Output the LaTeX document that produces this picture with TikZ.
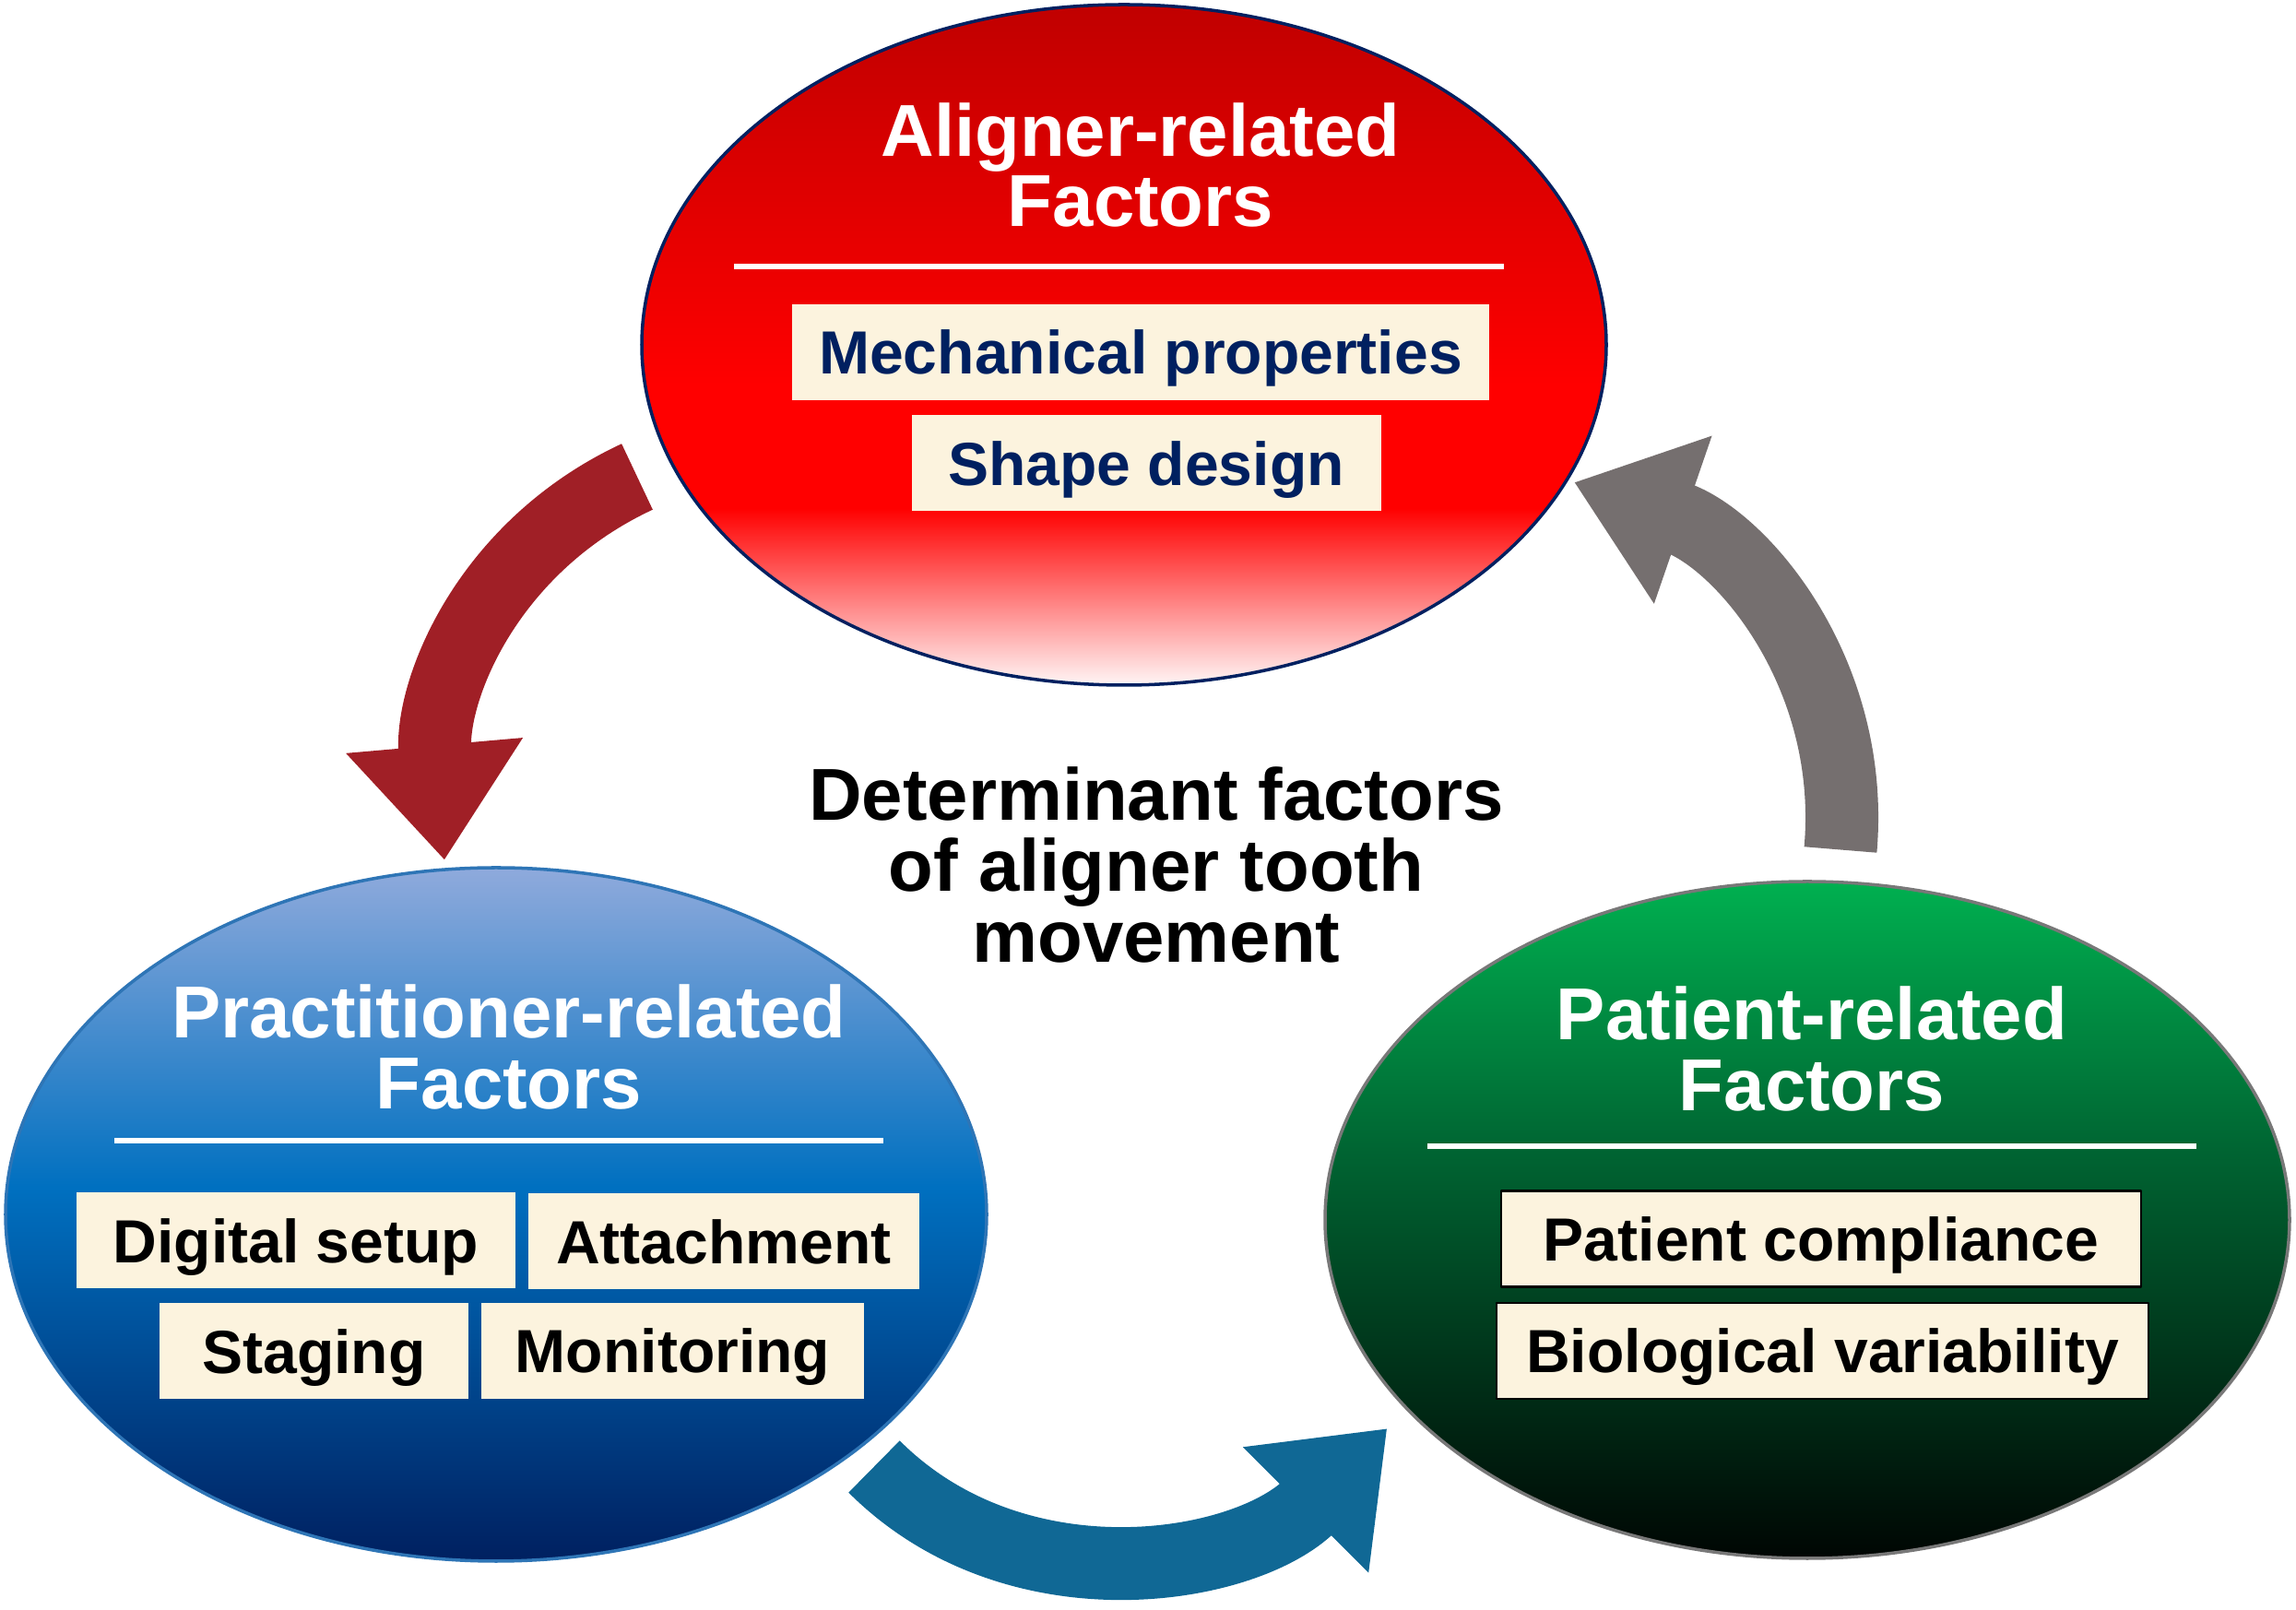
\documentclass[tikz,border=0pt]{standalone}
\usepackage{fontspec}
\setmainfont{Liberation Sans}
\usetikzlibrary{shapes.geometric,arrows.meta}
\definecolor{redlow}{RGB}{255,246,246}
\definecolor{redmid}{RGB}{255,0,0}
\definecolor{redtop}{RGB}{192,0,0}
\definecolor{bluelow}{RGB}{0,32,96}
\definecolor{bluemid}{RGB}{0,112,192}
\definecolor{bluetop}{RGB}{143,170,220}
\definecolor{greenlow}{RGB}{0,6,3}
\definecolor{greenmid}{RGB}{0,100,50}
\definecolor{greentop}{RGB}{0,176,80}
\definecolor{cream}{RGB}{252,243,222}
\definecolor{navytext}{RGB}{0,32,96}
\definecolor{rimblue}{RGB}{46,117,182}
\definecolor{rimgray}{RGB}{120,120,120}
\definecolor{arrowred}{RGB}{160,31,38}
\definecolor{arrowgray}{RGB}{117,111,111}
\definecolor{arrowblue}{RGB}{16,104,149}
\pgfdeclareverticalshading{alignershade}{100bp}{color(0bp)=(redlow); color(25bp)=(redlow); color(38bp)=(redmid); color(47bp)=(redmid); color(75bp)=(redtop); color(100bp)=(redtop)}
\pgfdeclareverticalshading{practshade}{100bp}{color(0bp)=(bluelow); color(25bp)=(bluelow); color(52bp)=(bluemid); color(75bp)=(bluetop); color(100bp)=(bluetop)}
\pgfdeclareverticalshading{patientshade}{100bp}{color(0bp)=(greenlow); color(25bp)=(greenlow); color(55bp)=(greenmid); color(75bp)=(greentop); color(100bp)=(greentop)}
\begin{document}
\begin{tikzpicture}[line join=round,
	factor/.style={ellipse,shade,inner sep=0pt,line width=1pt},
	heading/.style={text=white,align=center,font=\fontsize{22.7}{21.7}\selectfont\bfseries},
	rule/.style={white,line width=1.8pt},
	cbox/.style={fill=cream,inner sep=0pt,minimum height=1.04cm,text height=0.55cm,text depth=0.07cm,font=\fontsize{18.8}{22}\selectfont\bfseries},
	flow/.style={line width=0.79cm,-{Triangle[length=1.25cm,width=1.84cm]}}]
	\useasboundingbox (0,0) rectangle (24.9,17.46);
	\node[factor,shading=alignershade,draw=navytext,minimum width=10.46cm,minimum height=7.38cm] (aligner) at (12.19,13.72) {};
	\node[factor,shading=practshade,draw=rimblue,minimum width=10.64cm,minimum height=7.52cm] (pract) at (5.38,4.29) {};
	\node[factor,shading=patientshade,draw=rimgray,minimum width=10.46cm,minimum height=7.34cm] (patient) at (19.60,4.23) {};
	\node[heading] (alignerTitle) at (12.37,15.67) {Aligner-related\\Factors};
	\draw[rule] (7.96,14.57)--(16.31,14.57);
	\node[cbox,text=navytext,minimum width=7.56cm] (mech) at (12.37,13.64) {Mechanical properties};
	\node[cbox,text=navytext,minimum width=5.09cm] (shape) at (12.43,12.435) {Shape design};
	\node[heading] (practTitle) at (5.52,6.105) {Practitioner-related\\Factors};
	\draw[rule] (1.24,5.09)--(9.58,5.09);
	\node[cbox,minimum width=4.76cm] (digital) at (3.21,4.005) {Digital setup};
	\node[cbox,minimum width=4.24cm] (attach) at (7.85,3.995) {Attachment};
	\node[cbox,minimum width=3.35cm] (staging) at (3.405,2.805) {Staging};
	\node[cbox,minimum width=4.15cm] (monitor) at (7.295,2.81) {Monitoring};
	\node[heading] (patientTitle) at (19.65,6.085) {Patient-related\\Factors};
	\draw[rule] (15.48,5.03)--(23.82,5.03);
	\node[cbox,draw=black,line width=0.8pt,minimum width=6.94cm] (compliance) at (19.75,4.025) {Patient compliance};
	\node[cbox,draw=black,line width=0.8pt,minimum width=7.07cm] (bio) at (19.765,2.81) {Biological variability};
	\node[align=center,font=\fontsize{22.7}{21.8}\selectfont\bfseries] (core) at (12.54,8.08) {Determinant factors\\of aligner tooth\\movement};
	\coordinate (redTail) at (6.91,12.29);
	\coordinate (redTip) at (4.82,8.13);
	\coordinate (grayTail) at (19.96,8.245);
	\coordinate (grayTip) at (17.07,12.23);
	\coordinate (blueTail) at (9.48,1.555);
	\coordinate (blueTip) at (15.045,1.97);
	\draw[flow,arrowred] (redTail) to[out=205,in=95] (redTip);
	\draw[flow,arrowgray] (grayTail) to[out=85,in=341] (grayTip);
	\draw[flow,arrowblue] (blueTail) to[out=-45,in=225] (blueTip);
\end{tikzpicture}
\end{document}
